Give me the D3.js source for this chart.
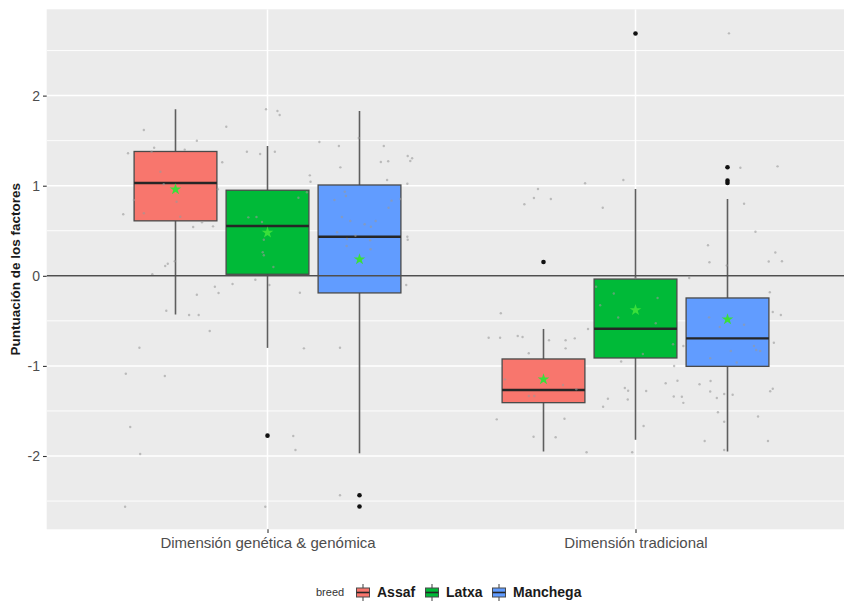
<!DOCTYPE html>
<html>
<head>
<meta charset="utf-8">
<script src="https://cdn.jsdelivr.net/npm/d3@7"></script>
<style>
  html, body { margin: 0; padding: 0; background: #ffffff; }
  svg { display: block; font-family: "Liberation Sans", Arial, sans-serif; }
</style>
</head>
<body>
<svg id="chart" width="844" height="602"></svg>
<script>
// ---- data ----
const categories = ["Dimensión genética & genómica", "Dimensión tradicional"];
const breeds = ["Assaf", "Latxa", "Manchega"];
const breedColors = ["#F8766D", "#00BA38", "#619CFF"];
const yTicks = [-2, -1, 0, 1, 2];
const yMinorTicks = [-2.5, -1.5, -0.5, 0.5, 1.5, 2.5];

// box statistics: one row per dimension, one value per breed
const lowerWhisker = [[-0.43, -0.80, -1.97], [-1.95, -1.82, -1.95]];
const q1           = [[0.61, 0.017, -0.19], [-1.408, -0.912, -1.005]];
const median       = [[1.03, 0.553, 0.434], [-1.267, -0.587, -0.694]];
const q3           = [[1.38, 0.95, 1.008], [-0.923, -0.036, -0.246]];
const upperWhisker = [[1.85, 1.44, 1.83], [-0.59, 0.963, 0.852]];
const meanValue    = [[0.96, 0.48, 0.183], [-1.149, -0.38, -0.483]];
const outliers     = [[[], [-1.774], [-2.436, -2.56]], [[0.153], [2.69], [1.205, 1.056, 1.03]]];

// individual scores: [horizontal jitter (category units), score]
const pointsGenetica = [
  [-0.336, 1.618], [-0.112, 1.655], [-0.192, 1.499], [-0.308, 1.422], [-0.379, 1.360],
  [-0.315, 1.377], [-0.225, 1.400], [-0.123, 1.260], [-0.056, 1.377], [-0.291, 1.155],
  [-0.282, 1.016], [-0.363, 0.841], [-0.247, 0.822], [-0.392, 0.683], [-0.336, 0.694],
  [-0.237, 0.656], [-0.135, 0.960], [-0.202, 0.542], [-0.178, 0.594], [-0.148, 0.549],
  [-0.278, 0.109], [-0.271, 0.134], [-0.252, 0.161], [-0.313, 0.017], [-0.143, -0.121],
  [-0.133, -0.191], [-0.095, -0.091], [-0.192, -0.210], [-0.275, -0.387], [-0.213, -0.435],
  [-0.187, -0.435], [-0.157, -0.613], [-0.004, 1.848], [0.027, 1.829], [0.033, 1.785],
  [-0.020, 1.352], [0.020, 1.377], [0.141, 1.485], [0.194, 1.441], [0.248, 1.529],
  [0.316, 1.441], [0.198, 1.204], [0.308, 1.263], [0.328, 1.271], [0.381, 1.330],
  [0.388, 1.274], [0.393, 1.304], [0.115, 1.115], [0.117, 1.044], [0.325, 1.063],
  [0.380, 1.022], [0.084, 0.867], [-0.052, 0.649], [-0.030, 0.653], [-0.015, 0.597],
  [-0.010, 0.401], [-0.013, 0.261], [-0.010, 0.228], [0.016, 0.098], [0.107, 0.927],
  [0.182, 0.841], [0.210, 0.933], [0.213, 0.886], [0.202, 0.653], [0.225, 0.608],
  [0.264, 0.572], [0.281, 0.545], [0.294, 0.608], [0.239, 0.445], [0.216, 0.408],
  [0.215, 0.331], [0.279, 0.394], [0.280, 0.294], [0.329, 0.756], [0.337, 0.834],
  [0.362, 0.852], [0.380, 0.434], [0.381, 0.401], [0.189, 0.483], [-0.033, -0.043],
  [0.005, -0.102], [0.088, -0.188], [0.377, -0.102], [-0.348, -0.798], [-0.385, -1.087],
  [-0.279, -1.112], [-0.373, -1.678], [-0.346, -1.978], [-0.387, -2.563], [0.099, -0.805],
  [0.197, -0.798], [0.070, -1.778], [0.076, -1.933], [0.197, -2.436], [-0.006, -2.563]
];
const pointsTradicional = [
  [-0.137, 1.027], [-0.033, 1.063], [-0.265, 0.963], [-0.276, 0.863], [-0.302, 0.794],
  [-0.230, 0.852], [-0.089, 0.756], [-0.366, -0.416], [-0.399, -0.687], [-0.368, -0.687],
  [-0.320, -0.668], [-0.307, -0.679], [-0.235, -0.716], [-0.190, -0.716], [-0.165, -0.694],
  [-0.190, -0.805], [-0.290, -0.860], [-0.107, -0.121], [-0.059, -0.196], [-0.096, -0.326],
  [-0.047, -0.463], [0.060, -0.246], [0.055, -0.527], [-0.129, -0.590], [0.020, -0.868],
  [-0.039, -0.951], [-0.355, -1.149], [-0.197, -1.212], [-0.161, -1.260], [-0.290, -1.334],
  [-0.275, -1.334], [-0.029, -1.245], [-0.020, -1.275], [0.029, -1.279], [-0.075, -1.364],
  [-0.021, -1.373], [-0.088, -1.453], [-0.377, -1.593], [-0.193, -1.586], [-0.277, -1.786],
  [-0.217, -1.792], [0.022, -1.667], [-0.133, -1.959], [-0.009, -1.959], [0.082, -1.193],
  [0.114, -1.164], [0.104, -1.340], [0.126, -1.342], [0.130, -1.410], [0.174, -1.203],
  [0.204, -1.168], [0.203, -1.284], [0.221, -1.356], [0.241, -1.312], [0.264, -1.320],
  [0.224, -1.515], [0.241, -1.619], [0.188, -1.834], [0.197, 0.339], [0.201, 0.150],
  [0.248, 0.114], [0.380, 0.259], [0.362, 0.159], [0.398, 0.161], [0.373, -0.402],
  [0.395, -0.435], [0.376, -0.743], [0.366, -1.281], [0.373, -1.253], [0.333, -1.562],
  [0.360, -1.834], [0.146, -0.024], [0.105, -1.001], [0.200, -0.461], [0.229, -0.568],
  [0.295, -0.544], [0.259, -0.835], [0.203, -0.915], [0.275, -0.962], [0.322, -0.779],
  [0.328, -0.824], [0.339, -0.835], [0.130, -0.779], [0.102, -0.760], [0.285, 1.200],
  [0.386, 1.215], [0.295, 0.800], [0.326, 0.489], [0.365, -0.183], [0.241, -1.933],
  [0.254, 2.691], [0.000, -0.024]
];
const pointsByCategory = [pointsGenetica, pointsTradicional];

// ---- layout ----
const svg = d3.select("#chart");
const W = 844, H = 602;
const panel = { left: 46.7, right: 856.3, top: 9.3, bottom: 529.3 };
const dodge = 0.25, boxWidth = 0.225;

const x = d3.scalePoint().domain(categories).range([panel.left, panel.right]).padding(0.6);
const step = x.step();
const y = d3.scaleLinear().domain([-2.8135, 2.958]).range([panel.bottom, panel.top]);
const xAt = (ci, offset) => x(categories[ci]) + offset * step;

svg.append("defs").append("clipPath").attr("id", "panelClip")
  .append("rect").attr("x", panel.left).attr("y", panel.top)
  .attr("width", W - panel.left).attr("height", panel.bottom - panel.top);

// panel background
svg.append("rect")
  .attr("x", panel.left).attr("y", panel.top)
  .attr("width", W - panel.left).attr("height", panel.bottom - panel.top)
  .attr("fill", "#EBEBEB");

const plot = svg.append("g").attr("clip-path", "url(#panelClip)");

// grid lines
plot.append("g").selectAll("line").data(yMinorTicks).join("line")
  .attr("x1", panel.left).attr("x2", W)
  .attr("y1", d => y(d)).attr("y2", d => y(d))
  .attr("stroke", "#FFFFFF").attr("stroke-width", 0.9);
plot.append("g").selectAll("line").data(yTicks).join("line")
  .attr("x1", panel.left).attr("x2", W)
  .attr("y1", d => y(d)).attr("y2", d => y(d))
  .attr("stroke", "#FFFFFF").attr("stroke-width", 1.5);
plot.append("g").selectAll("line").data(categories).join("line")
  .attr("x1", d => x(d)).attr("x2", d => x(d))
  .attr("y1", panel.top).attr("y2", panel.bottom)
  .attr("stroke", "#FFFFFF").attr("stroke-width", 1.5);

// boxplots
const boxes = [];
categories.forEach((c, ci) => breeds.forEach((b, bi) => boxes.push({ ci, bi })));

const boxG = plot.append("g");
boxes.forEach(({ ci, bi }) => {
  const cx = xAt(ci, (bi - 1) * dodge);
  const x0 = xAt(ci, (bi - 1) * dodge - boxWidth / 2);
  const x1 = xAt(ci, (bi - 1) * dodge + boxWidth / 2);
  const g = boxG.append("g");
  // whiskers
  g.append("line").attr("x1", cx).attr("x2", cx)
    .attr("y1", y(q3[ci][bi])).attr("y2", y(upperWhisker[ci][bi]))
    .attr("stroke", "#5E5E5E").attr("stroke-width", 1.6);
  g.append("line").attr("x1", cx).attr("x2", cx)
    .attr("y1", y(q1[ci][bi])).attr("y2", y(lowerWhisker[ci][bi]))
    .attr("stroke", "#5E5E5E").attr("stroke-width", 1.6);
  // box
  g.append("rect")
    .attr("x", x0).attr("width", x1 - x0)
    .attr("y", y(q3[ci][bi])).attr("height", y(q1[ci][bi]) - y(q3[ci][bi]))
    .attr("fill", breedColors[bi]).attr("stroke", "#4A4A4A").attr("stroke-width", 1.3);
  // median
  g.append("line").attr("x1", x0).attr("x2", x1)
    .attr("y1", y(median[ci][bi])).attr("y2", y(median[ci][bi]))
    .attr("stroke", "#262626").attr("stroke-width", 2.4);
  // outliers
  g.selectAll("circle").data(outliers[ci][bi]).join("circle")
    .attr("cx", cx).attr("cy", d => y(d)).attr("r", 2.3)
    .attr("fill", "#111111");
});

// individual jittered scores
pointsByCategory.forEach((pts, ci) => {
  plot.append("g").selectAll("circle").data(pts).join("circle")
    .attr("cx", d => xAt(ci, d[0])).attr("cy", d => y(d[1]))
    .attr("r", 1.2).attr("fill", "#9A9A9A").attr("fill-opacity", 0.6);
});

// reference line at zero
plot.append("line")
  .attr("x1", panel.left).attr("x2", W)
  .attr("y1", y(0)).attr("y2", y(0))
  .attr("stroke", "#4F4F4F").attr("stroke-width", 1.4);

// means
const star = d3.symbol().type(d3.symbolStar).size(42);
boxes.forEach(({ ci, bi }) => {
  plot.append("path").attr("d", star)
    .attr("transform", `translate(${xAt(ci, (bi - 1) * dodge)},${y(meanValue[ci][bi])})`)
    .attr("fill", "#3ADF3A");
});

// y axis
const yAxis = svg.append("g").attr("transform", `translate(${panel.left},0)`)
  .call(d3.axisLeft(y).tickValues(yTicks).tickSize(3.7).tickPadding(3).tickFormat(d => String(d)));
yAxis.select(".domain").remove();
yAxis.selectAll(".tick line").attr("stroke", "#333333").attr("stroke-width", 1.1);
yAxis.selectAll(".tick text").attr("fill", "#4D4D4D").style("font-size", "14px")
  .style("font-family", "'Liberation Sans', Arial, sans-serif");

// x axis
const xAxis = svg.append("g").attr("transform", `translate(0,${panel.bottom})`)
  .call(d3.axisBottom(x).tickSize(3.7).tickPadding(4));
xAxis.select(".domain").remove();
xAxis.selectAll(".tick line").attr("stroke", "#333333").attr("stroke-width", 1.1);
xAxis.selectAll(".tick text").attr("fill", "#4D4D4D").style("font-size", "15px")
  .style("font-family", "'Liberation Sans', Arial, sans-serif");

// y axis title
svg.append("text")
  .attr("transform", `translate(20,${(panel.top + panel.bottom) / 2}) rotate(-90)`)
  .attr("text-anchor", "middle")
  .style("font-size", "13.5px").style("font-weight", "bold").attr("fill", "#1A1A1A")
  .text("Puntuación de los factores");

// legend
const legend = svg.append("g");
legend.append("text").attr("x", 316).attr("y", 596)
  .style("font-size", "11px").attr("fill", "#333333").text("breed");
const keyX = [355, 424, 491];
const labelX = [377, 446, 513];
breeds.forEach((b, i) => {
  const k = legend.append("g").attr("transform", `translate(${keyX[i]},583)`);
  k.append("line").attr("x1", 8).attr("x2", 8).attr("y1", 1).attr("y2", 18)
    .attr("stroke", "#5E5E5E").attr("stroke-width", 1.2);
  k.append("rect").attr("x", 1.5).attr("y", 5).attr("width", 13).attr("height", 9)
    .attr("fill", breedColors[i]).attr("stroke", "#4A4A4A").attr("stroke-width", 1);
  k.append("line").attr("x1", 1.5).attr("x2", 14.5).attr("y1", 9.5).attr("y2", 9.5)
    .attr("stroke", "#262626").attr("stroke-width", 1.6);
  legend.append("text").attr("x", labelX[i]).attr("y", 597)
    .style("font-size", "14px").style("font-weight", "bold").attr("fill", "#1A1A1A")
    .text(b);
});
</script>
</body>
</html>
